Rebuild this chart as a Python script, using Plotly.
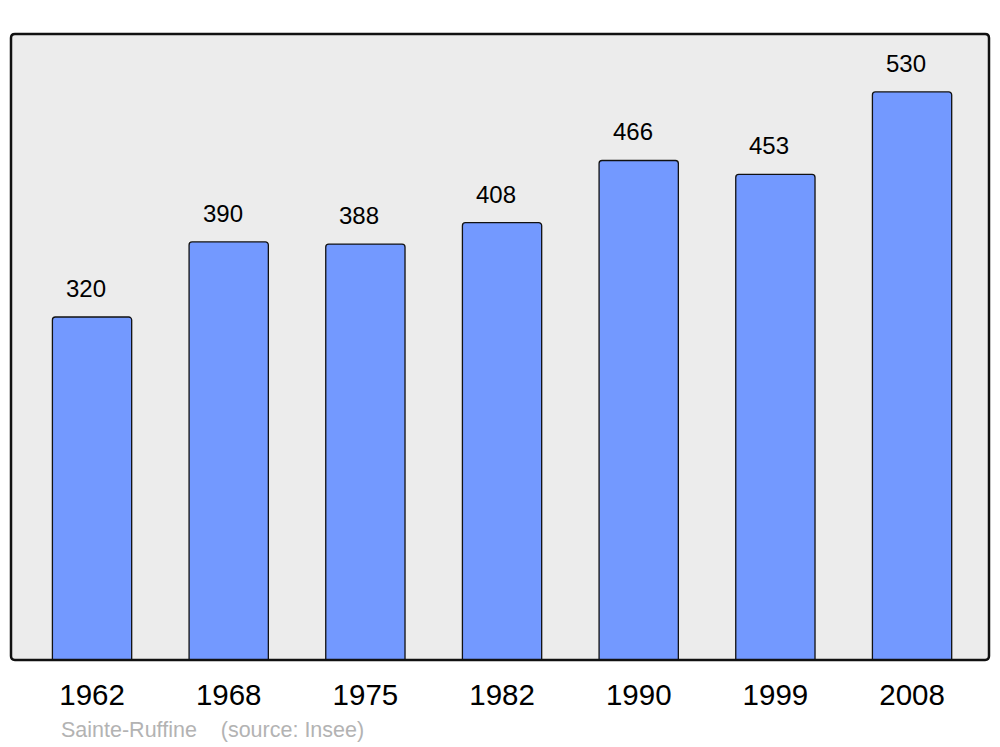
import plotly.graph_objects as go

years = ["1962", "1968", "1975", "1982", "1990", "1999", "2008"]
population = [320, 390, 388, 408, 466, 453, 530]
footer = "Sainte-Ruffine\u00a0\u00a0\u00a0\u00a0(source: Insee)"

fig = go.Figure()
fig.add_trace(go.Bar(
    x=years, y=population,
    marker=dict(color="#7399ff", line=dict(color="#111111", width=1.3), cornerradius=3),
    width=0.58,
    hoverinfo="skip",
))

for i, v in enumerate(population):
    fig.add_annotation(x=i, y=v, xref="x", yref="y", text=str(v), showarrow=False,
                       yanchor="bottom", yshift=13, xshift=-6,
                       font=dict(family="Liberation Sans, Arial", size=24, color="black"))

fig.add_annotation(xref="paper", yref="paper", x=(59 - 11) / 978, y=-(730 - 660) / 626,
                   xanchor="left", yanchor="middle", text=footer, showarrow=False,
                   font=dict(family="Liberation Sans, Arial", size=21.5, color="#b3b3b3"))

# rounded frame
r = 0.004
ry = r * 978 / 626
path = (f"M {r},0 L {1-r},0 Q 1,0 1,{ry} L 1,{1-ry} Q 1,1 {1-r},1 "
        f"L {r},1 Q 0,1 0,{1-ry} L 0,{ry} Q 0,0 {r},0 Z")
fig.add_shape(type="path", xref="paper", yref="paper", path=path,
              line=dict(color="#111111", width=2.5), layer="above")

fig.update_layout(
    width=1000, height=747,
    margin=dict(l=11, r=11, t=34, b=87),
    paper_bgcolor="white", plot_bgcolor="#ececec",
    showlegend=False,
    font=dict(family="Liberation Sans, Arial", color="black"),
    xaxis=dict(type="category", range=[-0.593, 6.563], showgrid=False, zeroline=False,
               showline=False, ticks="outside", ticklen=9, tickcolor="rgba(0,0,0,0)",
               tickfont=dict(size=29.5, color="black")),
    yaxis=dict(range=[0, 584], showgrid=False, zeroline=False, showticklabels=False,
               showline=False, ticks=""),
)

fig.write_html("out.html", config={"displayModeBar": False},
               post_script="document.body.style.margin='0';")
